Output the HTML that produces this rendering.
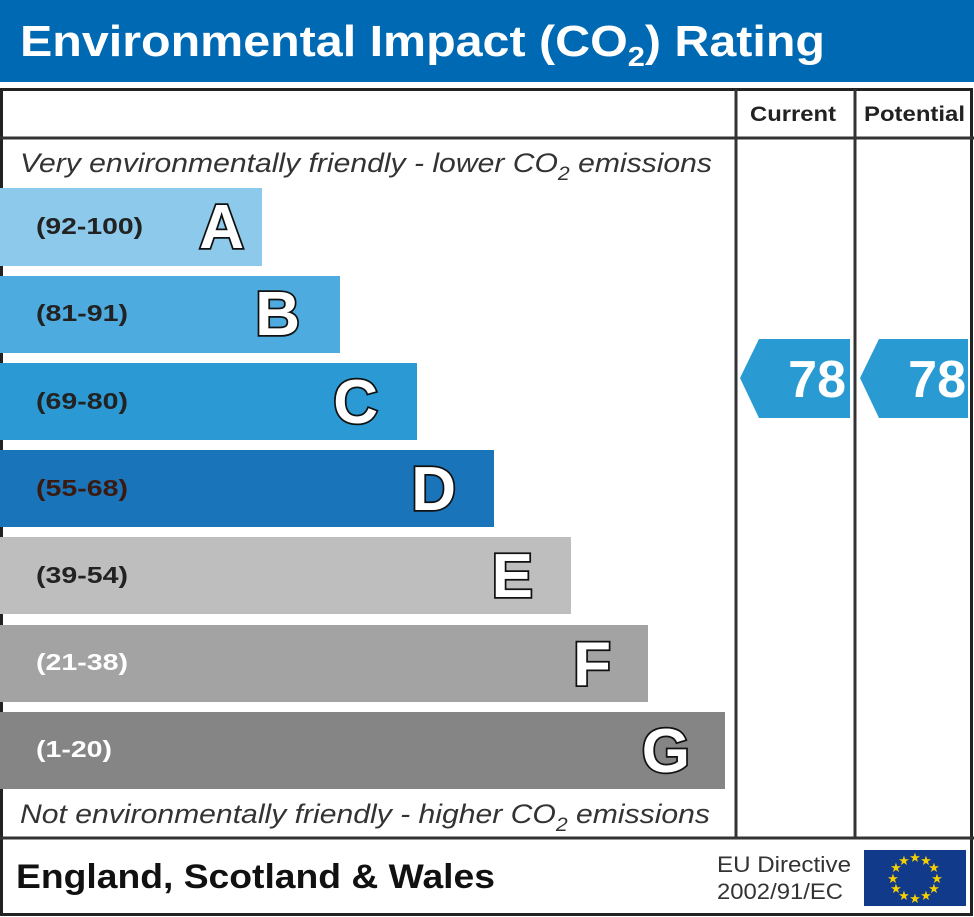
<!DOCTYPE html>
<html><head><style>body{margin:0;background:#fff}svg{display:block}</style></head><body>
<svg width="974" height="917" viewBox="0 0 974 917" xmlns="http://www.w3.org/2000/svg" font-family="Liberation Sans, sans-serif">
<rect x="0" y="0" width="974" height="82" fill="#0069b3"/>
<text x="20" y="56" font-size="44" font-weight="bold" fill="#fff" textLength="805" lengthAdjust="spacingAndGlyphs">Environmental Impact (CO<tspan font-size="28" dy="10">2</tspan><tspan dy="-10">) Rating</tspan></text>
<rect x="1.5" y="89.5" width="970" height="825" fill="none" stroke="#222" stroke-width="3"/>
<line x1="736" y1="89" x2="736" y2="838" stroke="#333" stroke-width="3"/>
<line x1="855" y1="89" x2="855" y2="838" stroke="#333" stroke-width="3"/>
<line x1="0" y1="138" x2="974" y2="138" stroke="#333" stroke-width="3"/>
<line x1="0" y1="838" x2="974" y2="838" stroke="#333" stroke-width="3"/>
<text x="750" y="121" font-size="21" font-weight="bold" fill="#222" textLength="86" lengthAdjust="spacingAndGlyphs">Current</text>
<text x="864" y="121" font-size="21" font-weight="bold" fill="#222" textLength="101" lengthAdjust="spacingAndGlyphs">Potential</text>
<text x="20" y="172" font-size="27" font-style="italic" fill="#333" textLength="692" lengthAdjust="spacingAndGlyphs">Very environmentally friendly - lower CO<tspan font-size="19" dy="8">2</tspan><tspan dy="-8"> emissions</tspan></text>
<text x="20" y="823" font-size="27" font-style="italic" fill="#333" textLength="690" lengthAdjust="spacingAndGlyphs">Not environmentally friendly - higher CO<tspan font-size="19" dy="8">2</tspan><tspan dy="-8"> emissions</tspan></text>
<g font-weight="bold">
<rect x="0" y="188" width="262" height="78" fill="#8cc9ea"/>
<text x="36" y="234" font-size="23" fill="#222" textLength="107" lengthAdjust="spacingAndGlyphs">(92-100)</text>
<rect x="0" y="276" width="340" height="77" fill="#4dabe0"/>
<text x="36" y="321" font-size="23" fill="#222" textLength="92" lengthAdjust="spacingAndGlyphs">(81-91)</text>
<rect x="0" y="363" width="417" height="77" fill="#2b9ad4"/>
<text x="36" y="409" font-size="23" fill="#222" textLength="92" lengthAdjust="spacingAndGlyphs">(69-80)</text>
<rect x="0" y="450" width="494" height="77" fill="#1a74ba"/>
<text x="36" y="496" font-size="23" fill="#3a1a10" textLength="92" lengthAdjust="spacingAndGlyphs">(55-68)</text>
<rect x="0" y="537" width="571" height="77" fill="#bebebe"/>
<text x="36" y="583" font-size="23" fill="#222" textLength="92" lengthAdjust="spacingAndGlyphs">(39-54)</text>
<rect x="0" y="625" width="648" height="77" fill="#a3a3a3"/>
<text x="36" y="670" font-size="23" fill="#fff" textLength="92" lengthAdjust="spacingAndGlyphs">(21-38)</text>
<rect x="0" y="712" width="725" height="77" fill="#858585"/>
<text x="36" y="757" font-size="23" fill="#fff" textLength="76" lengthAdjust="spacingAndGlyphs">(1-20)</text>
<g font-size="62" fill="#fff" stroke="#111" stroke-width="3.5" paint-order="stroke" text-anchor="end">
<text x="244" y="248">A</text>
<text x="300" y="335">B</text>
<text x="378" y="423">C</text>
<text x="456" y="510">D</text>
<text x="533" y="597">E</text>
<text x="611" y="685">F</text>
<text x="690" y="772">G</text>
</g>
<polygon points="740,378 759,339 850,339 850,418 759,418" fill="#2a9ad3"/>
<polygon points="860,378 879,339 968,339 968,418 879,418" fill="#2a9ad3"/>
<text x="846" y="397" font-size="52" fill="#fff" text-anchor="end">78</text>
<text x="966" y="397" font-size="52" fill="#fff" text-anchor="end">78</text>
<text x="16" y="888" font-size="34" fill="#111" textLength="479" lengthAdjust="spacingAndGlyphs">England, Scotland &amp; Wales</text>
</g>
<text x="717" y="872" font-size="22" fill="#333" textLength="134" lengthAdjust="spacingAndGlyphs">EU Directive</text>
<text x="717" y="899" font-size="22" fill="#333" textLength="126" lengthAdjust="spacingAndGlyphs">2002/91/EC</text>
<rect x="864" y="850" width="102" height="56" fill="#123a8a"/>
<g fill="#f5d000" font-size="13" text-anchor="middle">
<text x="915" y="862">★</text><text x="926" y="865">★</text><text x="934" y="872">★</text><text x="937" y="883">★</text><text x="934" y="893">★</text><text x="926" y="900">★</text><text x="915" y="903">★</text><text x="904" y="900">★</text><text x="896" y="893">★</text><text x="893" y="883">★</text><text x="896" y="872">★</text><text x="904" y="865">★</text>
</g>
</svg>
</body></html>
